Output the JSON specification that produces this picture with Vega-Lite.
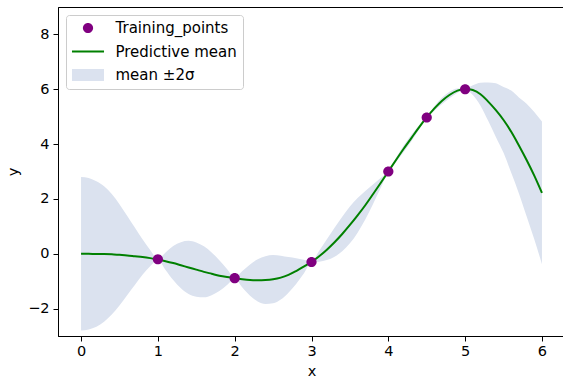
{
 "$schema": "https://vega.github.io/schema/vega-lite/v6.json",
 "width": 507, "height": 329,
 "autosize": {"type": "none"},
 "padding": {"left": 58, "top": 7, "right": 0, "bottom": 44},
 "background": "white",
 "config": {
  "font": "DejaVu Sans",
  "view": {"stroke": "black", "strokeWidth": 1},
  "axis": {"grid": false, "domainColor": "black", "tickColor": "black", "tickSize": 5, "labelFontSize": 14.5, "labelColor": "black", "titleFontSize": 14.5, "titleFontWeight": "normal", "titleColor": "black", "labelFont": "DejaVu Sans", "titleFont": "DejaVu Sans"},
  "axisX": {"labelPadding": 3, "titlePadding": 7},
  "axisY": {"labelPadding": 4, "titlePadding": 7}
 },
 "datasets": {
  "gp": [
   {"x":0.0,"mean":0.00,"lower":-2.80,"upper":2.80},
   {"x":0.1,"mean":0.00,"lower":-2.76,"upper":2.76},
   {"x":0.2,"mean":-0.01,"lower":-2.66,"upper":2.64},
   {"x":0.3,"mean":-0.01,"lower":-2.48,"upper":2.46},
   {"x":0.4,"mean":-0.02,"lower":-2.22,"upper":2.18},
   {"x":0.5,"mean":-0.04,"lower":-1.89,"upper":1.81},
   {"x":0.6,"mean":-0.06,"lower":-1.51,"upper":1.39},
   {"x":0.7,"mean":-0.09,"lower":-1.14,"upper":0.96},
   {"x":0.8,"mean":-0.12,"lower":-0.77,"upper":0.53},
   {"x":0.9,"mean":-0.16,"lower":-0.46,"upper":0.14},
   {"x":1.0,"mean":-0.21,"lower":-0.23,"upper":-0.19},
   {"x":1.1,"mean":-0.27,"lower":-0.59,"upper":0.05},
   {"x":1.2,"mean":-0.34,"lower":-0.96,"upper":0.28},
   {"x":1.3,"mean":-0.42,"lower":-1.26,"upper":0.42},
   {"x":1.4,"mean":-0.50,"lower":-1.47,"upper":0.47},
   {"x":1.5,"mean":-0.58,"lower":-1.57,"upper":0.41},
   {"x":1.6,"mean":-0.66,"lower":-1.59,"upper":0.27},
   {"x":1.7,"mean":-0.73,"lower":-1.51,"upper":0.05},
   {"x":1.8,"mean":-0.80,"lower":-1.36,"upper":-0.24},
   {"x":1.9,"mean":-0.85,"lower":-1.14,"upper":-0.56},
   {"x":2.0,"mean":-0.89,"lower":-0.91,"upper":-0.87},
   {"x":2.1,"mean":-0.93,"lower":-1.23,"upper":-0.63},
   {"x":2.2,"mean":-0.96,"lower":-1.53,"upper":-0.39},
   {"x":2.3,"mean":-0.97,"lower":-1.74,"upper":-0.20},
   {"x":2.4,"mean":-0.96,"lower":-1.83,"upper":-0.09},
   {"x":2.5,"mean":-0.93,"lower":-1.81,"upper":-0.05},
   {"x":2.6,"mean":-0.87,"lower":-1.67,"upper":-0.07},
   {"x":2.7,"mean":-0.77,"lower":-1.42,"upper":-0.12},
   {"x":2.8,"mean":-0.63,"lower":-1.10,"upper":-0.16},
   {"x":2.9,"mean":-0.47,"lower":-0.72,"upper":-0.22},
   {"x":3.0,"mean":-0.30,"lower":-0.32,"upper":-0.28},
   {"x":3.1,"mean":-0.09,"lower":-0.29,"upper":0.11},
   {"x":3.2,"mean":0.15,"lower":-0.23,"upper":0.53},
   {"x":3.3,"mean":0.42,"lower":-0.11,"upper":0.95},
   {"x":3.4,"mean":0.72,"lower":0.09,"upper":1.35},
   {"x":3.5,"mean":1.05,"lower":0.38,"upper":1.72},
   {"x":3.6,"mean":1.40,"lower":0.77,"upper":2.03},
   {"x":3.7,"mean":1.77,"lower":1.25,"upper":2.29},
   {"x":3.8,"mean":2.17,"lower":1.81,"upper":2.53},
   {"x":3.9,"mean":2.58,"lower":2.40,"upper":2.76},
   {"x":4.0,"mean":3.00,"lower":2.98,"upper":3.02},
   {"x":4.1,"mean":3.42,"lower":3.34,"upper":3.50},
   {"x":4.2,"mean":3.83,"lower":3.71,"upper":3.95},
   {"x":4.3,"mean":4.22,"lower":4.10,"upper":4.34},
   {"x":4.4,"mean":4.61,"lower":4.53,"upper":4.69},
   {"x":4.5,"mean":4.97,"lower":4.95,"upper":4.99},
   {"x":4.6,"mean":5.30,"lower":5.22,"upper":5.38},
   {"x":4.7,"mean":5.58,"lower":5.46,"upper":5.70},
   {"x":4.8,"mean":5.80,"lower":5.68,"upper":5.92},
   {"x":4.9,"mean":5.95,"lower":5.87,"upper":6.03},
   {"x":5.0,"mean":6.01,"lower":5.99,"upper":6.03},
   {"x":5.1,"mean":5.97,"lower":5.79,"upper":6.15},
   {"x":5.2,"mean":5.82,"lower":5.40,"upper":6.24},
   {"x":5.3,"mean":5.55,"lower":4.85,"upper":6.25},
   {"x":5.4,"mean":5.24,"lower":4.26,"upper":6.22},
   {"x":5.5,"mean":4.88,"lower":3.68,"upper":6.08},
   {"x":5.6,"mean":4.45,"lower":2.95,"upper":5.95},
   {"x":5.7,"mean":3.95,"lower":2.20,"upper":5.70},
   {"x":5.8,"mean":3.42,"lower":1.37,"upper":5.47},
   {"x":5.9,"mean":2.85,"lower":0.53,"upper":5.17},
   {"x":6.0,"mean":2.22,"lower":-0.38,"upper":4.82}
  ],
  "pts": [
   {"series":"Training_points","x":1.0,"y":-0.2},
   {"series":"Training_points","x":2.0,"y":-0.89},
   {"series":"Training_points","x":3.0,"y":-0.3},
   {"series":"Training_points","x":4.0,"y":3.0},
   {"series":"Training_points","x":4.5,"y":4.97},
   {"series":"Training_points","x":5.0,"y":6.0}
  ]
 },
 "layer": [
  {
   "data": {"name": "gp"},
   "mark": {"type": "area", "color": "#dbe2ef", "opacity": 1, "interpolate": "monotone"},
   "encoding": {
    "x": {"field": "x", "type": "quantitative", "scale": {"domain": [-0.3, 6.3], "nice": false, "zero": false}, "axis": {"values": [0,1,2,3,4,5,6], "format": "d", "title": "x"}},
    "y": {"field": "lower", "type": "quantitative", "scale": {"domain": [-3, 9], "nice": false, "zero": false}, "axis": {"values": [-2,0,2,4,6,8], "format": "d", "title": "y"}},
    "y2": {"field": "upper"}
   }
  },
  {
   "data": {"name": "gp"},
   "mark": {"type": "line", "color": "green", "strokeWidth": 2, "interpolate": "catmull-rom"},
   "encoding": {
    "x": {"field": "x", "type": "quantitative"},
    "y": {"field": "mean", "type": "quantitative"}
   }
  },
  {
   "data": {"name": "pts"},
   "mark": {"type": "point", "filled": true, "opacity": 1, "size": 144},
   "encoding": {
    "x": {"field": "x", "type": "quantitative"},
    "y": {"field": "y", "type": "quantitative"},
    "color": {
     "field": "series", "type": "nominal",
     "scale": {"domain": ["Training_points", "Predictive mean", "mean ±2σ"], "range": ["purple", "green", "#dbe2ef"]},
     "legend": {
      "title": null, "orient": "top-left", "offset": 8, "padding": 5.5, "rowPadding": 7.5,
      "symbolSize": 144, "symbolOffset": 9, "labelOffset": 20,
      "labelFontSize": 15, "labelFont": "DejaVu Sans", "labelColor": "black",
      "strokeColor": "#cccccc", "fillColor": "white", "cornerRadius": 3, "symbolOpacity": 1,
      "encode": {"symbols": {"update": {"stroke": {"scale": "color", "field": "value"}, "strokeWidth": {"signal": "datum.value === 'Predictive mean' ? 2 : 0"}}}}
     }
    },
    "shape": {
     "field": "series", "type": "nominal",
     "scale": {"domain": ["Training_points", "Predictive mean", "mean ±2σ"], "range": ["M0.85,0A0.85,0.85,0,1,1,-0.85,0A0.85,0.85,0,1,1,0.85,0Z", "M-2.67,0H2.67", "M-2.67,-1H2.67V1H-2.67Z"]}
    }
   }
  }
 ]
}
